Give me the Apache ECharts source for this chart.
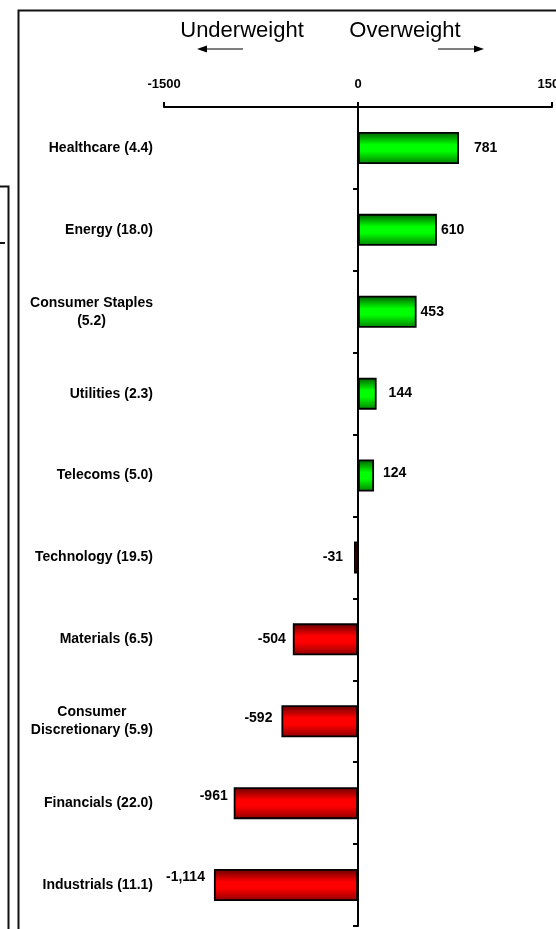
<!DOCTYPE html>
<html>
<head>
<meta charset="utf-8">
<script src="https://cdn.jsdelivr.net/npm/echarts@6/dist/echarts.min.js"></script>
<style>
  html, body { margin: 0; padding: 0; background: #fff; }
  #chart { width: 556px; height: 929px; }
</style>
</head>
<body>
<div id="chart"></div>
<script>
// Sector positioning vs benchmark (weight in brackets)
const sectors = [
  'Healthcare (4.4)',
  'Energy (18.0)',
  'Consumer Staples\n(5.2)',
  'Utilities (2.3)',
  'Telecoms (5.0)',
  'Technology (19.5)',
  'Materials (6.5)',
  'Consumer\nDiscretionary (5.9)',
  'Financials (22.0)',
  'Industrials (11.1)'
];
const positions = [781, 610, 453, 144, 124, -31, -504, -592, -961, -1114];
const axisTicks = [-1500, 0, 1500];

// label spacing from the bar end, per sector
const labelGap = [15, 4, 4, 12, 9, 11, 7, 9, 6, 9];
const labelLift = [0, 0, 0, -1, -2, 0, 0, -3, -7, -8];

const FONT = "'Liberation Sans', Arial, sans-serif";

const greenFill = new echarts.graphic.LinearGradient(0, 0, 0, 1, [
  { offset: 0, color: '#005a00' },
  { offset: 0.4, color: '#00ff00' },
  { offset: 0.6, color: '#00ff00' },
  { offset: 1, color: '#008000' }
]);
const redFill = new echarts.graphic.LinearGradient(0, 0, 0, 1, [
  { offset: 0, color: '#640000' },
  { offset: 0.4, color: '#ff0000' },
  { offset: 0.6, color: '#ff0000' },
  { offset: 1, color: '#8c0000' }
]);

function fmt(v) {
  const s = Math.abs(v).toString().replace(/\B(?=(\d{3})+(?!\d))/g, ',');
  return (v < 0 ? '-' : '') + s;
}

const barData = positions.map((v, i) => ({
  value: v,
  itemStyle: { color: v >= 0 ? greenFill : redFill },
  label: {
    position: v >= 0 ? 'right' : 'left',
    distance: labelGap[i],
    offset: [0, labelLift[i]]
  }
}));

const chart = echarts.init(document.getElementById('chart'), null, { renderer: 'canvas' });

chart.setOption({
  animation: false,
  backgroundColor: '#ffffff',
  textStyle: { fontFamily: FONT },
  grid: { left: 164, right: 4, top: 107, bottom: 3, containLabel: false, outerBoundsMode: 'none' },
  xAxis: {
    type: 'value',
    position: 'top',
    min: axisTicks[0],
    max: axisTicks[axisTicks.length - 1],
    interval: axisTicks[1] - axisTicks[0],
    axisLine: { show: true, onZero: false, lineStyle: { color: '#000', width: 2 } },
    axisTick: { show: true, length: 5, lineStyle: { color: '#000', width: 2 } },
    axisLabel: {
      margin: 16,
      color: '#000',
      fontFamily: FONT,
      fontWeight: 'bold',
      fontSize: 13,
      showMinLabel: true,
      showMaxLabel: true,
      hideOverlap: false,
      formatter: v => String(v)
    },
    splitLine: { show: false }
  },
  yAxis: [
    {
      type: 'category',
      inverse: true,
      data: sectors,
      position: 'left',
      axisLine: { show: false, onZero: false },
      axisTick: { show: false },
      axisLabel: {
        margin: 11,
        color: '#000',
        interval: 0,
        formatter: function (v) {
          return v.split('\n').map(l => '{c|' + l + '}').join('\n');
        },
        rich: {
          c: {
            align: 'center',
            fontFamily: FONT,
            fontWeight: 'bold',
            fontSize: 14,
            color: '#000',
            lineHeight: 18
          }
        }
      }
    },
    {
      type: 'category',
      inverse: true,
      data: sectors,
      position: 'left',
      axisLine: { show: true, onZero: true, lineStyle: { color: '#000', width: 2 } },
      axisTick: { show: true, length: 5, lineStyle: { color: '#000', width: 2 } },
      axisLabel: { show: false }
    }
  ],
  series: [
    {
      type: 'bar',
      yAxisIndex: 0,
      data: barData,
      barWidth: 32,
      itemStyle: { borderColor: '#000', borderWidth: 1.8 },
      label: {
        show: true,
        color: '#000',
        fontFamily: FONT,
        fontWeight: 'bold',
        fontSize: 14,
        formatter: p => fmt(p.value)
      }
    }
  ],
  graphic: [
    // frames
    { type: 'polyline', shape: { points: [[18.5, 929], [18.5, 10.5], [556, 10.5]] },
      style: { stroke: '#111', lineWidth: 2, fill: null }, silent: true },
    { type: 'polyline', shape: { points: [[0, 186.5], [8.5, 186.5], [8.5, 929]] },
      style: { stroke: '#111', lineWidth: 2, fill: null }, silent: true },
    { type: 'line', shape: { x1: 0, y1: 243, x2: 5, y2: 243 },
      style: { stroke: '#111', lineWidth: 2 }, silent: true },
    // direction headings
    { type: 'text', x: 242, y: 31, silent: true,
      style: { text: 'Underweight', fontFamily: FONT, fontSize: 22, fill: '#000',
               align: 'center', verticalAlign: 'middle' } },
    { type: 'text', x: 405, y: 31, silent: true,
      style: { text: 'Overweight', fontFamily: FONT, fontSize: 22, fill: '#000',
               align: 'center', verticalAlign: 'middle' } },
    // arrows
    { type: 'line', shape: { x1: 205, y1: 49, x2: 243, y2: 49 },
      style: { stroke: '#000', lineWidth: 1.2 }, silent: true },
    { type: 'polygon', shape: { points: [[197, 49], [207, 45.5], [207, 52.5]] },
      style: { fill: '#000' }, silent: true },
    { type: 'line', shape: { x1: 438, y1: 49, x2: 476, y2: 49 },
      style: { stroke: '#000', lineWidth: 1.2 }, silent: true },
    { type: 'polygon', shape: { points: [[484, 49], [474, 45.5], [474, 52.5]] },
      style: { fill: '#000' }, silent: true }
  ]
});
</script>
</body>
</html>
